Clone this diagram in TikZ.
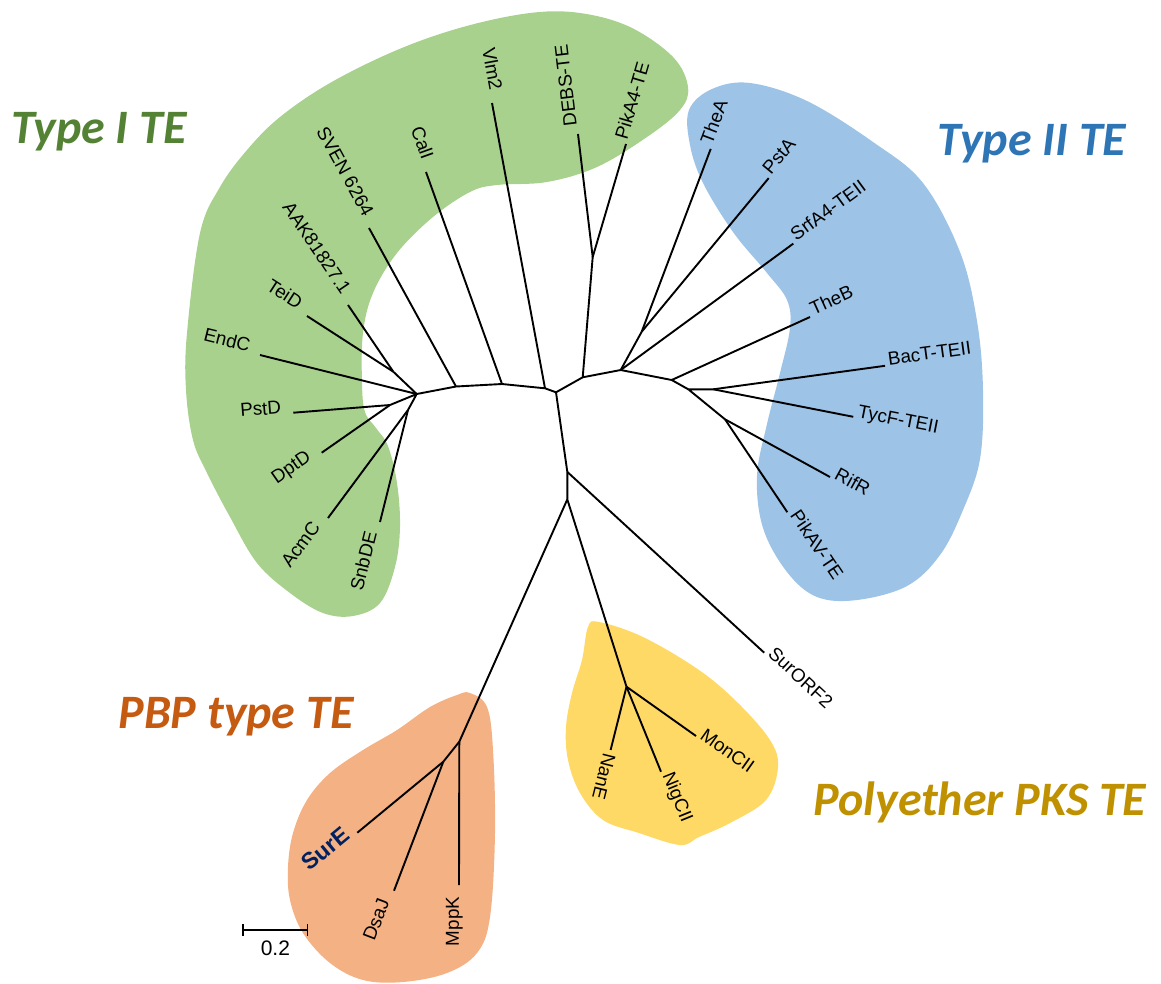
\documentclass[tikz,border=0pt]{standalone}
\usepackage{fontspec}
\setmainfont{Liberation Sans}
\newfontfamily\titlefont{Carlito}
\usetikzlibrary{calc}
\definecolor{typeIfill}{HTML}{A9D18E}
\definecolor{typeIfont}{HTML}{548235}
\definecolor{typeIIfill}{HTML}{9DC3E6}
\definecolor{typeIIfont}{HTML}{2E75B6}
\definecolor{pbpfill}{HTML}{F4B183}
\definecolor{pbpfont}{HTML}{C55A11}
\definecolor{polyfill}{HTML}{FFD966}
\definecolor{polyfont}{HTML}{BF9000}
\definecolor{surecol}{HTML}{002060}
\begin{document}
\begin{tikzpicture}[x=1pt, y=-1pt,
    branch/.style={line width=1.9pt},
    leaf/.style={sloped, pos=1, inner ysep=2pt, font=\fontsize{18.8}{21}\selectfont},
    lft/.style={leaf, anchor=base east, inner xsep=11pt},
    rgt/.style={leaf, anchor=base west, inner xsep=3pt},
    upr/.style={rgt, allow upside down},
    title/.style={anchor=base, font=\titlefont\bfseries\itshape\fontsize{48}{52}\selectfont}]
    \useasboundingbox (0,0) rectangle (1161,983);
    % clade backgrounds
    \fill[typeIfill] plot[smooth cycle, tension=0.6] coordinates {
        (186,390) (187,333) (200,233) (220,187) (247,150) (280,117) (330,83)
        (397,50) (463,27) (530,13) (580,13) (630,27) (673,57) (688,87) (680,110)
        (647,137) (597,167) (547,182) (497,185) (470,192) (433,217) (397,253)
        (373,293) (363,333) (362,383) (365,412) (376,428) (388,446) (397,483)
        (400,527) (395,567) (380,603) (353,616) (323,613) (290,593) (257,563)
        (230,517) (207,473) (193,440)};
    \fill[typeIIfill] plot[smooth cycle, tension=0.6] coordinates {
        (689,110) (712,89) (750,83) (807,101) (873,142) (923,183) (960,252)
        (977,321) (983,390) (980,459) (963,510) (940,555) (907,586) (857,600)
        (817,597) (787,572) (763,528) (757,476) (767,424) (780,373) (790,328)
        (787,300) (767,273) (733,232) (703,183) (690,145)};
    \fill[polyfill] plot[smooth cycle, tension=0.6] coordinates {
        (599,622) (643,637) (699,670) (738,703) (770,740) (778,767) (766,800)
        (730,823) (699,837) (680,845) (639,833) (603,820) (580,793) (568,760)
        (566,727) (572,693) (582,660) (588,627)};
    \fill[pbpfill] plot[smooth cycle, tension=0.6] coordinates {
        (470,693) (487,707) (493,750) (495,833) (490,917) (477,953) (447,973)
        (403,982) (363,980) (330,963) (303,933) (290,900) (288,867) (293,833)
        (307,800) (330,773) (363,750) (397,730) (430,707) (457,695)};
    % clade names
    \node[title, text=typeIfont] (tI) at (99,143) {Type I TE};
    \node[title, text=typeIIfont] (tII) at (1032,155) {Type II TE};
    \node[title, text=pbpfont] (tPBP) at (236,728) {PBP type TE};
    \node[title, text=polyfont] (tPoly) at (980,815) {Polyether PKS TE};
    % inner nodes
    \coordinate (A) at (416.7,394);
    \coordinate (T1) at (393.3,371.7);
    \coordinate (PD) at (390,405);
    \coordinate (AS) at (408,410);
    \coordinate (B) at (456,386.5);
    \coordinate (C) at (502,384);
    \coordinate (D) at (545,388.3);
    \coordinate (G) at (556,392.3);
    \coordinate (F) at (582.7,377.3);
    \coordinate (E) at (592.7,257);
    \coordinate (H) at (620.7,370);
    \coordinate (TP) at (641.7,331.7);
    \coordinate (K) at (671.7,380);
    \coordinate (L) at (688.3,389.3);
    \coordinate (M) at (713.3,389.3);
    \coordinate (N) at (725,419.3);
    \coordinate (I) at (567.3,471.9);
    \coordinate (J) at (567.3,499.4);
    \coordinate (P) at (626.5,686.7);
    \coordinate (Q) at (459.3,741.7);
    \coordinate (Q2) at (443.3,761.7);
    % leaves
    \coordinate (teid) at (307,316);
    \coordinate (aak) at (348,305);
    \coordinate (endc) at (260,355);
    \coordinate (pstd) at (293.3,412.7);
    \coordinate (dptd) at (321.7,452.7);
    \coordinate (acmc) at (328,518);
    \coordinate (snbde) at (380,522);
    \coordinate (sven) at (369,228);
    \coordinate (cali) at (426,172);
    \coordinate (vlm) at (492,103);
    \coordinate (debs) at (578,134);
    \coordinate (pika) at (626,144);
    \coordinate (thea) at (710.7,148.9);
    \coordinate (psta) at (768.7,178.1);
    \coordinate (srfa) at (793.3,243.6);
    \coordinate (theb) at (810,317);
    \coordinate (bact) at (885,365.8);
    \coordinate (tycf) at (853.3,416.8);
    \coordinate (rifr) at (830,477);
    \coordinate (pikav) at (787.3,512.2);
    \coordinate (surorf) at (764.2,652.7);
    \coordinate (nane) at (610.6,750);
    \coordinate (nigcii) at (661,771.7);
    \coordinate (moncii) at (696,736);
    \coordinate (sure) at (357.3,832.7);
    \coordinate (dsaj) at (394,890.7);
    \coordinate (mppk) at (459,885);
    % backbone
    \draw[branch] (A) -- (B) -- (C) -- (D) -- (G) -- (F) -- (H) -- (K) -- (L);
    \draw[branch] (A) -- (T1) (A) -- (PD) (A) -- (AS) (F) -- (E) (H) -- (TP)
        (L) -- (M) (L) -- (N) (G) -- (I) -- (J) (J) -- (P) (J) -- (Q) (Q) -- (Q2);
    % Type I TE
    \draw[branch] (T1) -- (teid) node[lft]{TeiD};
    \draw[branch] (T1) -- (aak) node[lft]{AAK81827.1};
    \draw[branch] (A) -- (endc) node[lft]{EndC};
    \draw[branch] (PD) -- (pstd) node[lft]{PstD};
    \draw[branch] (PD) -- (dptd) node[lft]{DptD};
    \draw[branch] (AS) -- (acmc) node[lft]{AcmC};
    \draw[branch] (AS) -- (snbde) node[lft]{SnbDE};
    \draw[branch] (B) -- (sven) node[lft]{SVEN 6264};
    \draw[branch] (C) -- (cali) node[lft]{CalI};
    \draw[branch] (D) -- (vlm) node[lft]{Vlm2};
    \draw[branch] (E) -- (debs) node[upr, inner xsep=8pt]{DEBS-TE};
    \draw[branch] (E) -- (pika) node[rgt]{PikA4-TE};
    % Type II TE
    \draw[branch] (TP) -- (thea) node[rgt]{TheA};
    \draw[branch] (TP) -- (psta) node[rgt]{PstA};
    \draw[branch] (H) -- (srfa) node[rgt]{SrfA4-TEII};
    \draw[branch] (K) -- (theb) node[rgt]{TheB};
    \draw[branch] (M) -- (bact) node[rgt]{BacT-TEII};
    \draw[branch] (M) -- (tycf) node[rgt]{TycF-TEII};
    \draw[branch] (N) -- (rifr) node[rgt]{RifR};
    \draw[branch] (N) -- (pikav) node[rgt]{PikAV-TE};
    \draw[branch] (I) -- (surorf) node[rgt]{SurORF2};
    % Polyether PKS TE
    \draw[branch] (P) -- (nane) node[upr, anchor=west, inner sep=3pt]{NanE};
    \draw[branch] (P) -- (nigcii) node[rgt]{NigCII};
    \draw[branch] (P) -- (moncii) node[rgt]{MonCII};
    % PBP type TE
    \draw[branch] (Q2) -- (sure) node[lft, inner xsep=7pt, text=surecol, font=\bfseries\fontsize{23}{25}\selectfont]{SurE};
    \draw[branch] (Q2) -- (dsaj) node[lft]{DsaJ};
    \draw[branch] (Q) -- (mppk) node[lft]{MppK};
    % scale bar
    \coordinate (s0) at (243,930);
    \coordinate (s1) at (307.7,930);
    \draw[line width=1.5pt] (s0) -- (s1) ([yshift=6pt]s0) -- ([yshift=-6pt]s0)
        ([yshift=6pt]s1) -- ([yshift=-6pt]s1);
    \node[font=\fontsize{21}{23}\selectfont, inner sep=0pt] (sbar) at ($(s0)!0.5!(s1)+(0,18)$) {0.2};
\end{tikzpicture}
\end{document}
